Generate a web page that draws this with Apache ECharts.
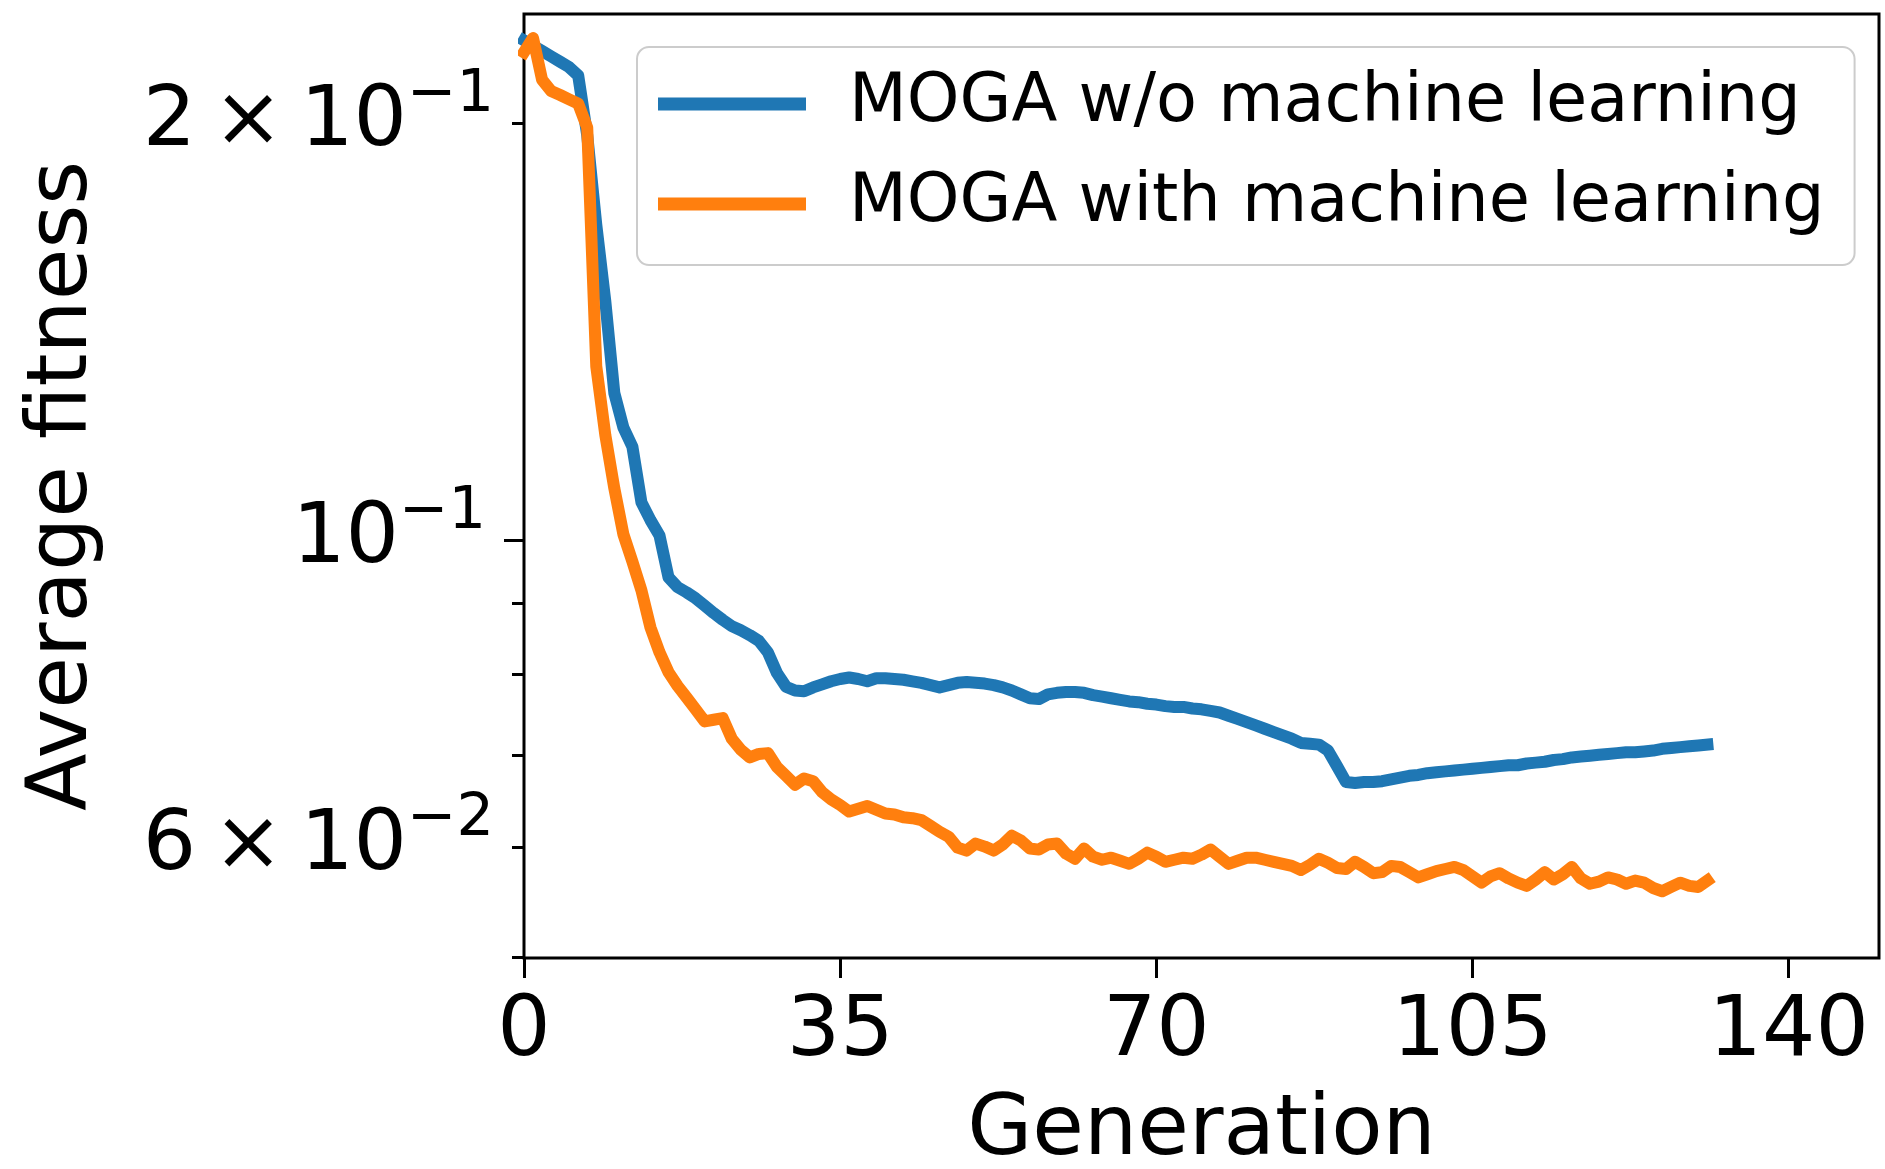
<!DOCTYPE html>
<html>
<head>
<meta charset="utf-8">
<style>
  html, body { margin: 0; padding: 0; background: #ffffff; }
  #chart { width: 1885px; height: 1169px; }
</style>
<script src="https://cdn.jsdelivr.net/npm/echarts@6/dist/echarts.min.js"></script>
</head>
<body>
<div id="chart"></div>
<script>
// Average population fitness per generation (index = generation number)
const seriesNames = ['MOGA w/o machine learning', 'MOGA with machine learning'];

const fitnessWithoutML = [
  0.2295, 0.2275, 0.2255, 0.2235, 0.2215, 0.2195, 0.2165, 0.1960, 0.1690, 0.1488,
  0.1277, 0.1206, 0.1168, 0.1065, 0.1034, 0.1008, 0.0940, 0.0925, 0.0917, 0.0908,
  0.0897, 0.0886, 0.0876, 0.0867, 0.0861, 0.0854, 0.0846, 0.0830, 0.0802, 0.0784,
  0.0779, 0.0778, 0.0783, 0.0787, 0.0791, 0.0794, 0.0796, 0.0794, 0.0791, 0.0795,
  0.0795, 0.0794, 0.0793, 0.0791, 0.0789, 0.0786, 0.0783, 0.0786, 0.0789, 0.0790,
  0.0789, 0.0788, 0.0786, 0.0783, 0.0779, 0.0774, 0.0769, 0.0768, 0.0774, 0.0776,
  0.0777, 0.0777, 0.0776, 0.0773, 0.0771, 0.0769, 0.0767, 0.0765, 0.0764, 0.0762,
  0.0761, 0.0759, 0.0758, 0.0758, 0.0756, 0.0755, 0.0753, 0.0751, 0.0747, 0.0743,
  0.0739, 0.0735, 0.0731, 0.0727, 0.0723, 0.0719, 0.0714, 0.0713, 0.0712, 0.0705,
  0.0687, 0.0669, 0.0668, 0.0669, 0.0669, 0.0670, 0.0672, 0.0674, 0.0676, 0.0677,
  0.0679, 0.0680, 0.0681, 0.0682, 0.0683, 0.0684, 0.0685, 0.0686, 0.0687, 0.0688,
  0.0688, 0.0690, 0.0691, 0.0692, 0.0694, 0.0695, 0.0697, 0.0698, 0.0699, 0.0700,
  0.0701, 0.0702, 0.0703, 0.0703, 0.0704, 0.0705, 0.0707, 0.0708, 0.0709, 0.0710,
  0.0711, 0.0712
];

const fitnessWithML = [
  0.2250, 0.2304, 0.2150, 0.2110, 0.2096, 0.2081, 0.2066, 0.1985, 0.1335, 0.1191,
  0.1090, 0.1010, 0.0965, 0.0920, 0.0865, 0.0830, 0.0803, 0.0785, 0.0770, 0.0755,
  0.0740, 0.0742, 0.0744, 0.0719, 0.0706, 0.0697, 0.0701, 0.0702, 0.0686, 0.0676,
  0.0666, 0.0673, 0.0670, 0.0658, 0.0650, 0.0644, 0.0637, 0.0640, 0.0643, 0.0639,
  0.0635, 0.0634, 0.0631, 0.0630, 0.0628, 0.0622, 0.0616, 0.0611, 0.0600, 0.0597,
  0.0604, 0.0601, 0.0597, 0.0603, 0.0612, 0.0607, 0.0599, 0.0598, 0.0603, 0.0604,
  0.0594, 0.0589, 0.0599, 0.0591, 0.0588, 0.0590, 0.0587, 0.0584, 0.0589, 0.0595,
  0.0591, 0.0586, 0.0588, 0.0590, 0.0589, 0.0593, 0.0598, 0.0591, 0.0584, 0.0587,
  0.0590, 0.0590, 0.0588, 0.0586, 0.0584, 0.0582, 0.0578, 0.0583, 0.0589, 0.0585,
  0.0580, 0.0579, 0.0586, 0.0581, 0.0575, 0.0576, 0.0582, 0.0581, 0.0576, 0.0571,
  0.0574, 0.0577, 0.0579, 0.0581, 0.0578, 0.0572, 0.0566, 0.0572, 0.0575, 0.0570,
  0.0566, 0.0563, 0.0569, 0.0576, 0.0569, 0.0574, 0.0581, 0.0570, 0.0565, 0.0567,
  0.0571, 0.0569, 0.0565, 0.0568, 0.0566, 0.0561, 0.0558, 0.0562, 0.0566, 0.0563,
  0.0562, 0.0568
];

// Axis ticks and labels
const xTickValues = [0, 35, 70, 105, 140];
const yLabelValues = [0.06, 0.1, 0.2];
const yLabelMantissas = ['6\u2009×\u200910', '10', '2\u2009×\u200910'];
const yLabelExponents = ['−2', '−1', '−1'];
const yMajorTickValues = [0.1];
const yMinorTickValues = [0.05, 0.06, 0.07, 0.08, 0.09, 0.2];

const FONT = 'DejaVu Sans';
const INK = '#000000';
const COLORS = ['#1f77b4', '#ff7f0e'];

const Y_MIN = 0.04994;
const Y_MAX = 0.2398;

function yLabelFormatter(value) {
  const idx = yLabelValues.findIndex(v => Math.abs(v - value) < 1e-9);
  if (idx < 0) return '';
  const isMajor = yMajorTickValues.some(v => Math.abs(v - value) < 1e-9);
  return '{m|' + yLabelMantissas[idx] + '}{' + (isMajor ? 'ej' : 'e') + '|' + yLabelExponents[idx] + '}';
}

const chart = echarts.init(document.getElementById('chart'), null, { renderer: 'canvas' });

const tickLine = { color: INK, width: 3 };

chart.setOption({
  animation: false,
  backgroundColor: '#ffffff',
  grid: {
    left: 524, right: 6, top: 14, bottom: 211,
    show: true, borderColor: INK, borderWidth: 3,
    backgroundColor: 'transparent',
    containLabel: false,
    outerBoundsMode: 'none'
  },
  legend: {
    data: seriesNames,
    orient: 'vertical',
    left: 637, top: 47,
    padding: [17, 30, 21, 21],
    itemWidth: 148, itemHeight: 13, itemGap: 20,
    icon: 'rect',
    backgroundColor: 'rgba(255,255,255,0.8)',
    borderColor: '#cccccc', borderWidth: 2, borderRadius: 12,
    textStyle: {
      fontFamily: FONT, fontSize: 67, color: INK,
      lineHeight: 80, padding: [0, 0, 0, 38]
    }
  },
  xAxis: {
    type: 'value', min: 0, max: 150,
    axisLine: { show: false },
    axisTick: { show: true, customValues: xTickValues, length: 20, lineStyle: tickLine },
    axisLabel: { customValues: xTickValues, fontFamily: FONT, fontSize: 84, color: INK, margin: 33 },
    splitLine: { show: false },
    name: 'Generation', nameLocation: 'middle', nameGap: 132,
    nameTextStyle: { fontFamily: FONT, fontSize: 84, color: INK }
  },
  yAxis: [
    {
      type: 'log', logBase: 10, min: Y_MIN, max: Y_MAX, position: 'left',
      axisLine: { show: false },
      axisTick: { show: true, customValues: yMajorTickValues, length: 20, lineStyle: tickLine },
      axisLabel: {
        customValues: yLabelValues,
        formatter: yLabelFormatter,
        margin: 30,
        rich: {
          m: { fontFamily: FONT, fontSize: 84, color: INK, lineHeight: 84, verticalAlign: 'bottom' },
          e: { fontFamily: FONT, fontSize: 59, color: INK, lineHeight: 59, verticalAlign: 'bottom', padding: [0, 0, 40, 0] },
          ej: { fontFamily: FONT, fontSize: 59, color: INK, lineHeight: 59, verticalAlign: 'bottom', padding: [0, 8, 40, 0] }
        }
      },
      splitLine: { show: false },
      minorTick: { show: false },
      name: 'Average fitness', nameLocation: 'middle', nameGap: 418, nameRotate: 90,
      nameTextStyle: { fontFamily: FONT, fontSize: 84, color: INK }
    },
    {
      type: 'log', logBase: 10, min: Y_MIN, max: Y_MAX, position: 'left', offset: 0,
      axisLine: { show: false },
      axisTick: { show: true, customValues: yMinorTickValues, length: 12, lineStyle: tickLine },
      axisLabel: { show: false },
      splitLine: { show: false }
    }
  ],
  series: [
    {
      name: seriesNames[0], type: 'line', yAxisIndex: 0,
      data: fitnessWithoutML.map((v, gen) => [gen, v]),
      showSymbol: false, symbol: 'none', smooth: false,
      color: COLORS[0],
      lineStyle: { width: 12, color: COLORS[0], join: 'round', cap: 'square' },
      emphasis: { disabled: true }
    },
    {
      name: seriesNames[1], type: 'line', yAxisIndex: 0,
      data: fitnessWithML.map((v, gen) => [gen, v]),
      showSymbol: false, symbol: 'none', smooth: false,
      color: COLORS[1],
      lineStyle: { width: 12, color: COLORS[1], join: 'round', cap: 'square' },
      emphasis: { disabled: true }
    }
  ]
});
</script>
</body>
</html>
